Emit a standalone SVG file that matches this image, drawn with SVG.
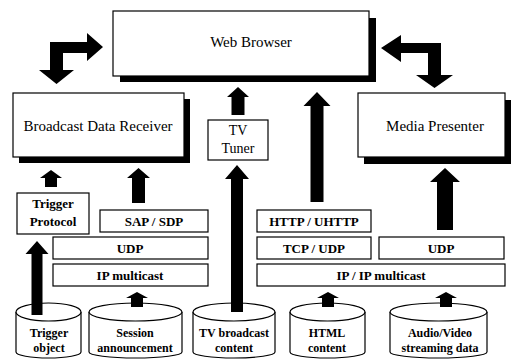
<svg xmlns="http://www.w3.org/2000/svg" width="512" height="360" viewBox="0 0 512 360">
<style>
.box{fill:#fff;stroke:#000;stroke-width:1.2}
.sh{fill:#000}
.big{font-family:"Liberation Serif","Times New Roman",serif;font-size:15px;fill:#000;text-anchor:middle}
.mid{font-family:"Liberation Serif","Times New Roman",serif;font-size:14px;fill:#000;text-anchor:middle}
.lbl{font-family:"Liberation Serif","Times New Roman",serif;font-size:13px;font-weight:bold;fill:#000;text-anchor:middle}
.cyl{font-family:"Liberation Serif","Times New Roman",serif;font-size:12px;font-weight:bold;fill:#000;text-anchor:middle}
.arr{fill:#000;stroke:none}
</style>
<rect width="512" height="360" fill="#fff"/>

<g id="web-browser">
<rect class="sh" x="120" y="18" width="256" height="64"/>
<rect class="box" x="113" y="11" width="256" height="65"/>
<text class="big" x="251" y="47">Web Browser</text>
</g>

<g id="broadcast-data-receiver">
<rect class="sh" x="19" y="99" width="171" height="64"/>
<rect class="box" x="13" y="93" width="171" height="64"/>
<text class="big" x="98" y="131">Broadcast Data Receiver</text>
</g>

<g id="tv-tuner">
<rect class="box" x="208" y="120" width="60" height="40"/>
<text class="mid" x="238" y="135">TV</text>
<text class="mid" x="238" y="153">Tuner</text>
</g>

<g id="media-presenter">
<rect class="sh" x="364" y="100" width="147" height="64"/>
<rect class="box" x="358" y="93" width="147" height="64"/>
<text class="big" x="435" y="131">Media Presenter</text>
</g>

<g id="trigger-protocol">
<rect class="box" x="17" y="193" width="72" height="41"/>
<text class="lbl" x="53" y="208">Trigger</text>
<text class="lbl" x="53" y="226">Protocol</text>
</g>

<g id="sap-sdp">
<rect class="box" x="100" y="210" width="108" height="22"/>
<text class="lbl" x="154" y="226">SAP / SDP</text>
</g>

<g id="udp-left">
<rect class="box" x="53" y="237" width="155" height="22"/>
<text class="lbl" x="130" y="253">UDP</text>
</g>

<g id="ip-multicast">
<rect class="box" x="53" y="264" width="155" height="22"/>
<text class="lbl" x="130" y="280">IP multicast</text>
</g>

<g id="http-uhttp">
<rect class="box" x="257" y="210" width="114" height="22"/>
<text class="lbl" x="314" y="226">HTTP / UHTTP</text>
</g>

<g id="tcp-udp">
<rect class="box" x="257" y="237" width="114" height="22"/>
<text class="lbl" x="314" y="253">TCP / UDP</text>
</g>

<g id="udp-right">
<rect class="box" x="379" y="237" width="125" height="22"/>
<text class="lbl" x="441" y="253">UDP</text>
</g>

<g id="ip-ip-multicast">
<rect class="box" x="257" y="264" width="248" height="22"/>
<text class="lbl" x="381" y="280">IP / IP multicast</text>
</g>

<g id="trigger-object">
<path class="box" d="M16,312 L16,352 A32.5,6 0 0 0 81,352 L81,312"/>
<ellipse class="box" cx="48.5" cy="312" rx="32.5" ry="9"/>
<text class="cyl" x="49" y="337">Trigger</text>
<text class="cyl" x="49" y="352">object</text>
</g>

<g id="session-announcement">
<path class="box" d="M89,312 L89,352 A46.5,6 0 0 0 182,352 L182,312"/>
<ellipse class="box" cx="135.5" cy="312" rx="46.5" ry="9"/>
<text class="cyl" x="135" y="337">Session</text>
<text class="cyl" x="135" y="352">announcement</text>
</g>

<g id="tv-broadcast-content">
<path class="box" d="M193,312 L193,352 A41,6 0 0 0 275,352 L275,312"/>
<ellipse class="box" cx="234" cy="312" rx="41" ry="9"/>
<text class="cyl" x="234" y="337">TV broadcast</text>
<text class="cyl" x="234" y="352">content</text>
</g>

<g id="html-content">
<path class="box" d="M290,312 L290,352 A37.5,6 0 0 0 365,352 L365,312"/>
<ellipse class="box" cx="327.5" cy="312" rx="37.5" ry="9"/>
<text class="cyl" x="327" y="337">HTML</text>
<text class="cyl" x="327" y="352">content</text>
</g>

<g id="av-streaming-data">
<path class="box" d="M390,312 L390,352 A48.5,6 0 0 0 487,352 L487,312"/>
<ellipse class="box" cx="438.5" cy="312" rx="48.5" ry="9"/>
<text class="cyl" x="440" y="337">Audio/Video</text>
<text class="cyl" x="440" y="352">streaming data</text>
</g>

<g id="connectors">
<polygon class="arr" points="50,42 87,42 87,33 103,47 87,61 87,53 63,53 63,70 74,70 56.5,84 39,70 50,70"/>
<polygon class="arr" points="381,48 401,35 401,43 441,43 441,75 453,75 434.5,88 416,75 428,75 428,53 401,53 401,62"/>
<polygon class="arr" points="51,170 62,178 57,178 57,187 45,187 45,178 40,178"/>
<polygon class="arr" points="138.5,168 150,178 145,178 145,203 132,203 132,178 127,178"/>
<polygon class="arr" points="238,87 249,97 244.5,97 244.5,115 231.5,115 231.5,97 227,97"/>
<polygon class="arr" points="237,165 249,179 243,179 243,312 231,312 231,179 225,179"/>
<polygon class="arr" points="317,92 330.5,106 323.5,106 323.5,202 310.5,202 310.5,106 303.5,106"/>
<polygon class="arr" points="445,168 460,182 453,182 453,230 437,230 437,182 430,182"/>
<polygon class="arr" points="37,241 48.5,254 42.5,254 42.5,315 31.5,315 31.5,254 25.5,254"/>
<polygon class="arr" points="137,292 148,298 143,298 143,307 131,307 131,298 126,298"/>
<polygon class="arr" points="328,292 339,298 334,298 334,307 322,307 322,298 317,298"/>
<polygon class="arr" points="446,292 457,298 452,298 452,307 440,307 440,298 435,298"/>
</g>
</svg>
